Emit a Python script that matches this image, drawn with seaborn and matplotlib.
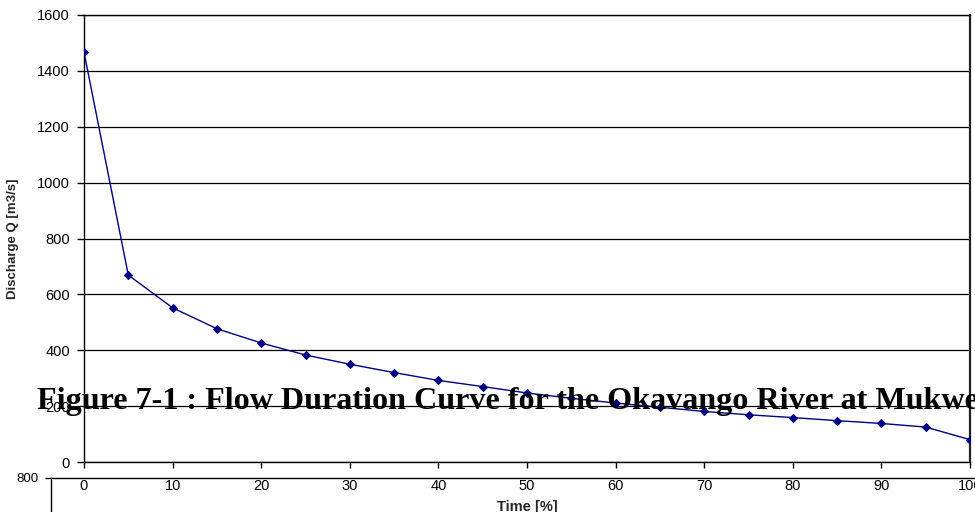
import matplotlib
matplotlib.use("Agg")
import matplotlib.pyplot as plt
import seaborn as sns
import pandas as pd

time_pct = [0, 5, 10, 15, 20, 25, 30, 35, 40, 45, 50, 55, 60, 65, 70, 75, 80, 85, 90, 95, 100]
discharge = [1467, 669, 552, 477, 426, 383, 350, 320, 292, 270, 247, 228, 211, 196, 181, 169, 159, 148, 138, 125, 80]
y_ticks = [0, 200, 400, 600, 800, 1000, 1200, 1400, 1600]
x_ticks = [0, 10, 20, 30, 40, 50, 60, 70, 80, 90, 100]
title_text = "Figure 7-1 : Flow Duration Curve for the Okavango River at Mukwe"
xlabel = "Time [%]"
ylabel = "Discharge Q [m3/s]"

sns.set_style("white")
plt.rcParams["font.family"] = ["Liberation Sans", "DejaVu Sans"]

W, H = 975, 512
fig = plt.figure(figsize=(W / 100, H / 100), dpi=100)

# second (cut-off) chart below, drawn first so it stays underneath
ax2 = fig.add_axes([51 / W, -0.5, 1.2, 0.5 + (512 - 478) / H])
ax2.set_facecolor("none")
ax2.set_xlim(0, 1)
ax2.set_ylim(0, 800)
ax2.set_yticks([800])
ax2.set_yticklabels(["800"], fontsize=9.5)
ax2.set_xticks([])
for s in ["top", "left"]:
    ax2.spines[s].set_visible(True)
    ax2.spines[s].set_color("black")
    ax2.spines[s].set_linewidth(1.0)
ax2.spines["right"].set_visible(False)
ax2.spines["bottom"].set_visible(False)
ax2.tick_params(axis="y", length=4, width=1, pad=5, left=True, colors="black")

ax = fig.add_axes([84 / W, (512 - 462) / H, (970 - 84) / W, (462 - 15) / H])
ax.set_facecolor("none")
df = pd.DataFrame({"time": time_pct, "q": discharge})
sns.lineplot(data=df, x="time", y="q", ax=ax, color="#000080", linewidth=1.0,
             marker="D", markersize=4.5, markeredgecolor="#000080", zorder=3)
ax.set_xlim(0, 100)
ax.set_ylim(0, 1600)
ax.set_yticks(y_ticks)
ax.set_xticks(x_ticks)
ax.set_yticklabels([str(v) for v in y_ticks], fontsize=10.5)
ax.set_xticklabels([str(v) for v in x_ticks], fontsize=10.5)
ax.grid(axis="y", color="black", linewidth=0.9)
ax.grid(axis="x", visible=False)
for s in ax.spines.values():
    s.set_visible(True)
    s.set_color("black")
    s.set_linewidth(1.0)
ax.spines["right"].set_linewidth(1.6)
ax.spines["right"].set_color("#222222")
ax.tick_params(axis="y", length=5, width=1, pad=5, left=True, colors="black")
ax.tick_params(axis="x", length=4, width=1, pad=8, bottom=True, colors="black")
ax.set_xlabel(xlabel, fontsize=10.5, fontweight="bold", va="center")
ax.set_ylabel(ylabel, fontsize=9.5, fontweight="bold", va="center")
ax.xaxis.set_label_coords(0.5, -0.1007)
ax.yaxis.set_label_coords(-(84 - 13) / 886, 0.5)

fig.text(37 / W, (512 - 409) / H, title_text, fontsize=23.1, fontweight="bold",
         family=["Liberation Serif", "DejaVu Serif"], ha="left", va="baseline",
         color="black", zorder=10)

fig.savefig("out.png", dpi=100)
